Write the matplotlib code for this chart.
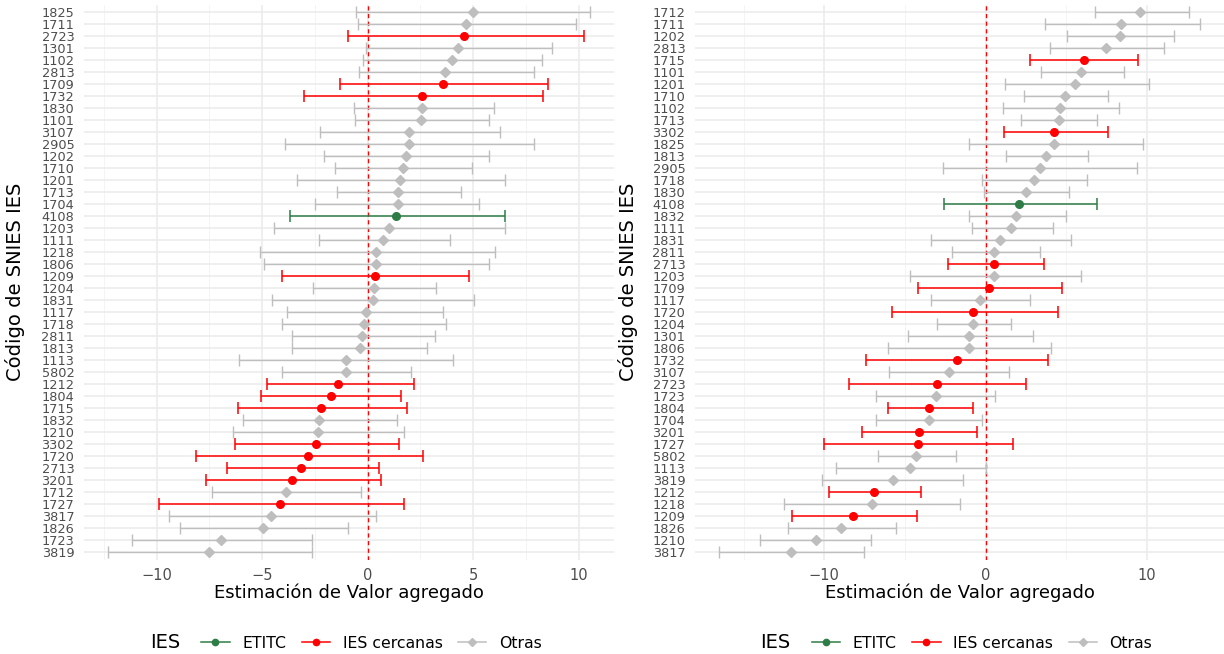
import matplotlib
matplotlib.use("Agg")
import matplotlib.pyplot as plt
import numpy as np
from matplotlib.lines import Line2D
from matplotlib.ticker import MultipleLocator

# ---- data: left panel ----
left_codes = ["1825", "1711", "2723", "1301", "1102", "2813", "1709", "1732", "1830", "1101",
              "3107", "2905", "1202", "1710", "1201", "1713", "1704", "4108", "1203", "1111",
              "1218", "1806", "1209", "1204", "1831", "1117", "1718", "2811", "1813", "1113",
              "5802", "1212", "1804", "1715", "1832", "1210", "3302", "1720", "2713", "3201",
              "1712", "1727", "3817", "1826", "1723", "3819"]
left_est = [5.01, 4.65, 4.59, 4.27, 3.99, 3.65, 3.59, 2.60, 2.60, 2.52,
            1.96, 1.96, 1.83, 1.69, 1.54, 1.42, 1.42, 1.36, 1.02, 0.74,
            0.42, 0.42, 0.36, 0.29, 0.24, -0.09, -0.18, -0.25, -0.38, -1.03,
            -1.03, -1.38, -1.74, -2.21, -2.29, -2.36, -2.43, -2.83, -3.14, -3.56,
            -3.88, -4.14, -4.56, -4.94, -6.93, -7.53]
left_lo = [-0.54, -0.47, -0.94, -0.07, -0.22, -0.40, -1.29, -2.99, -0.65, -0.60,
           -2.27, -3.92, -2.05, -1.52, -3.34, -1.47, -2.47, -3.70, -4.45, -2.32,
           -5.12, -4.92, -4.07, -2.58, -4.52, -3.81, -4.05, -3.58, -3.58, -6.10,
           -4.05, -4.79, -5.05, -6.15, -5.90, -6.37, -6.30, -8.15, -6.68, -7.68,
           -7.37, -9.87, -9.42, -8.89, -11.16, -12.30]
left_hi = [10.54, 9.87, 10.27, 8.75, 8.28, 7.88, 8.55, 8.33, 5.97, 5.75,
           6.30, 7.88, 5.75, 4.97, 6.50, 4.45, 5.30, 6.52, 6.52, 3.92,
           6.04, 5.77, 4.83, 3.25, 5.05, 3.59, 3.72, 3.18, 2.83, 4.05,
           2.05, 2.20, 1.60, 1.85, 1.38, 1.71, 1.47, 2.65, 0.53, 0.65,
           -0.29, 1.71, 0.40, -0.94, -2.65, -2.65]
left_near = ["2723", "1709", "1732", "1209", "1212", "1804", "1715", "3302",
             "1720", "2713", "3201", "1727"]

# ---- data: right panel ----
right_codes = ["1712", "1711", "1202", "2813", "1715", "1101", "1201", "1710", "1102", "1713",
               "3302", "1825", "1813", "2905", "1718", "1830", "4108", "1832", "1111", "1831",
               "2811", "2713", "1203", "1709", "1117", "1720", "1204", "1301", "1806", "1732",
               "3107", "2723", "1723", "1804", "1704", "3201", "1727", "5802", "1113", "3819",
               "1212", "1218", "1209", "1826", "1210", "3817"]
right_est = [9.61, 8.42, 8.33, 7.46, 6.08, 5.94, 5.54, 4.93, 4.61, 4.53,
             4.24, 4.24, 3.74, 3.37, 2.98, 2.54, 2.07, 1.92, 1.58, 0.91,
             0.54, 0.54, 0.54, 0.20, -0.32, -0.76, -0.76, -1.01, -1.01, -1.77,
             -2.29, -2.98, -3.08, -3.52, -3.52, -4.14, -4.21, -4.29, -4.66, -5.76,
             -6.90, -7.07, -8.20, -8.99, -10.52, -12.07]
right_lo = [6.82, 3.69, 5.07, 3.97, 2.78, 3.45, 1.21, 2.41, 1.06, 2.22,
            1.13, -1.03, 1.28, -2.64, -0.20, -0.10, -2.56, -1.03, -0.86, -3.40,
            -2.09, -2.34, -4.70, -4.16, -3.40, -5.79, -3.03, -4.80, -6.08, -7.39,
            -5.99, -8.50, -6.77, -6.06, -6.77, -7.64, -10.05, -6.70, -9.26, -10.17,
            -9.73, -12.49, -12.02, -12.24, -13.97, -16.53]
right_hi = [12.64, 13.30, 11.67, 11.08, 9.48, 8.57, 10.12, 7.61, 8.30, 6.90,
            7.61, 9.75, 6.38, 9.41, 6.31, 5.20, 6.90, 4.98, 4.16, 5.30,
            3.37, 3.62, 5.91, 4.73, 2.76, 4.51, 1.55, 2.96, 4.06, 3.89,
            1.45, 2.51, 0.59, -0.79, -0.20, -0.54, 1.72, -1.85, 0.05, -1.40,
            -3.99, -1.58, -4.24, -5.54, -7.09, -7.54]
right_near = ["1715", "3302", "2713", "1709", "1720", "1732", "2723", "1804",
              "3201", "1727", "1212", "1209"]

etitc_code = "4108"
group_names = ["ETITC", "IES cercanas", "Otras"]
colors = {"ETITC": "#2E7D46", "IES cercanas": "#FF0000", "Otras": "#BEBEBE"}

plt.rcParams["font.family"] = ["DejaVu Sans"]

W, H = 1224, 654
fig = plt.figure(figsize=(W / 100, H / 100), dpi=100)


def draw_panel(ax, codes, est, lo, hi, near, major, minor):
    est = np.array(est)
    lo = np.array(lo)
    hi = np.array(hi)
    n = len(codes)
    y = np.arange(n)[::-1]
    groups = ["ETITC" if c == etitc_code else ("IES cercanas" if c in near else "Otras")
              for c in codes]
    for g in ["Otras", "IES cercanas", "ETITC"]:
        idx = np.array([i for i in range(n) if groups[i] == g])
        if g == "Otras":
            mk, ms, lw = "D", 5, 1.0
        else:
            mk, ms, lw = "o", 5.5, 1.1
        ax.errorbar(est[idx], y[idx], xerr=[est[idx] - lo[idx], hi[idx] - est[idx]],
                    fmt=mk, color=colors[g], ms=ms, elinewidth=lw, capsize=4,
                    capthick=lw, zorder=3)
    ax.axvline(0, color="#FF0000", ls=(0, (3, 2.5)), lw=1.0, zorder=2.5)
    ax.margins(x=0.05)
    ax.set_ylim(-0.6, n - 0.4)
    ax.set_yticks(y)
    ax.set_yticklabels(codes)
    ax.xaxis.set_major_locator(MultipleLocator(major))
    ax.xaxis.set_minor_locator(MultipleLocator(minor))
    ax.grid(True, which="major", color="#EBEBEB", lw=1.1, zorder=0)
    ax.grid(True, which="minor", axis="x", color="#F2F2F2", lw=0.6, zorder=0)
    ax.set_axisbelow(True)
    for s in ax.spines.values():
        s.set_visible(False)
    ax.tick_params(which="both", length=0)
    ax.tick_params(axis="y", pad=7, labelsize=9.3, labelcolor="#4D4D4D")
    ax.tick_params(axis="x", pad=6, labelsize=10.5, labelcolor="#4D4D4D")


ax1 = fig.add_axes([84 / W, (H - 559.6) / H, 530 / W, 554.8 / H])
ax2 = fig.add_axes([695 / W, (H - 559.6) / H, 529 / W, 554.8 / H])
draw_panel(ax1, left_codes, left_est, left_lo, left_hi, left_near, 5, 2.5)
draw_panel(ax2, right_codes, right_est, right_lo, right_hi, right_near, 10, 5)

handles = [Line2D([], [], color=colors[g], marker="o" if g != "Otras" else "D",
                  ms=4.5, lw=1.1) for g in group_names]

for ax_left, ax_right, ytitle_x in [(84, 614, 15), (695, 1224, 628)]:
    cx = (ax_left + ax_right) / 2
    fig.text(cx / W, (H - 593) / H, "Estimación de Valor agregado",
             ha="center", va="center", fontsize=13)
    fig.text(ytitle_x / W, (H - 282) / H, "Código de SNIES IES", rotation=90,
             ha="center", va="center", fontsize=14)
    fig.text((cx - 184) / W, (H - 643) / H, "IES", ha="center", va="center", fontsize=14)
    fig.legend(handles, group_names, loc="center", bbox_to_anchor=((cx + 22.5) / W, (H - 643) / H),
               ncol=3, frameon=False, fontsize=11.3, handlelength=1.8,
               handletextpad=0.8, columnspacing=1.0, borderpad=0, borderaxespad=0)

fig.savefig("out.png", dpi=100)
